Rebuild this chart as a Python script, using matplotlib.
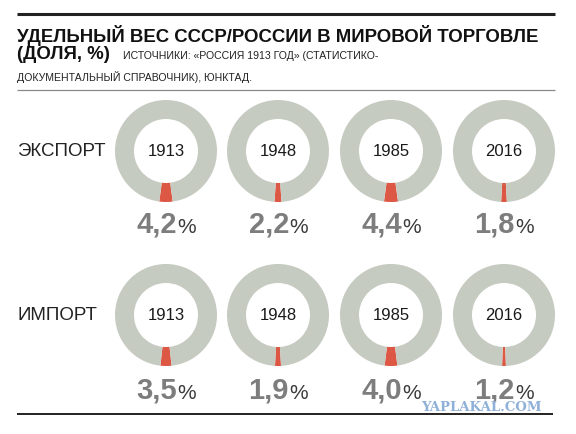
import matplotlib
matplotlib.use("Agg")
import matplotlib.pyplot as plt
from matplotlib.offsetbox import TextArea, HPacker, AnnotationBbox

# data
years = ["1913", "1948", "1985", "2016"]
row_names = ["ЭКСПОРТ", "ИМПОРТ"]
export_share = [4.2, 2.2, 4.4, 1.8]
import_share = [3.5, 1.9, 4.0, 1.2]

title = "УДЕЛЬНЫЙ ВЕС СССР/РОССИИ В МИРОВОЙ ТОРГОВЛЕ"
subtitle = "(ДОЛЯ, %)"
source1 = "ИСТОЧНИКИ: «РОССИЯ 1913 ГОД» (СТАТИСТИКО-"
source2 = "ДОКУМЕНТАЛЬНЫЙ СПРАВОЧНИК), ЮНКТАД."

# layout (pixel coords, y down)
col_x = [166, 278, 391, 504]
row_y = [152, 316]
pct_y = [225, 391]
radius = 51
ring = 19

ring_color = "#c6cbc1"
red = "#dc5844"
sans = "Liberation Sans"

fig = plt.figure(figsize=(5.76, 4.35), dpi=100)
ax = fig.add_axes([0, 0, 1, 1])

for r, shares in enumerate([export_share, import_share]):
    cy = row_y[r]
    ax.text(17, cy, row_names[r], fontsize=13.5, family=sans,
            color="#222222", ha="left", va="center")
    for c, share in enumerate(shares):
        cx = col_x[c]
        ax.pie([share, 100 - share], colors=[red, ring_color], radius=radius,
               center=(cx, cy), startangle=90 - share * 3.6 / 2, counterclock=True,
               wedgeprops=dict(width=ring, linewidth=0), frame=True)
        ax.text(cx, cy, years[c], fontsize=12, family=sans,
                color="#1a1a1a", ha="center", va="center")
        num = TextArea(f"{share:.1f}".replace(".", ","),
                       textprops=dict(fontsize=21, family=sans, weight="bold", color="#7d7d7d"))
        pc = TextArea("%", textprops=dict(fontsize=15, family=sans, color="#3a3a3a"))
        box = HPacker(children=[num, pc], align="baseline", pad=0, sep=0)
        ab = AnnotationBbox(box, (cx, pct_y[r]), frameon=False, box_alignment=(0.5, 0.5), pad=0)
        ax.add_artist(ab)

# header
ax.hlines(15, 17, 555, color="#222222", lw=2.2)
ax.text(17, 42, title, fontsize=13.4, family=sans, weight="bold", color="#111111",
        ha="left", va="baseline")
ax.text(17, 59, subtitle, fontsize=13.4, family=sans, weight="bold", color="#111111",
        ha="left", va="baseline")
ax.text(123, 59, source1, fontsize=7.6, family=sans, color="#222222",
        ha="left", va="baseline")
ax.text(17, 81, source2, fontsize=7.6, family=sans, color="#222222",
        ha="left", va="baseline")
ax.hlines(91, 17, 555, color="#8a8a8a", lw=0.9)
ax.hlines(415, 17, 553, color="#222222", lw=1.4)

ax.text(481, 408, "YAPLAKAL.COM", fontsize=9.5, family="DejaVu Serif", weight="bold",
        color="#8fb0d8", ha="center", va="center")

ax.set_xlim(0, 576)
ax.set_ylim(435, 0)
ax.axis("off")

fig.savefig("out.png", dpi=100)
